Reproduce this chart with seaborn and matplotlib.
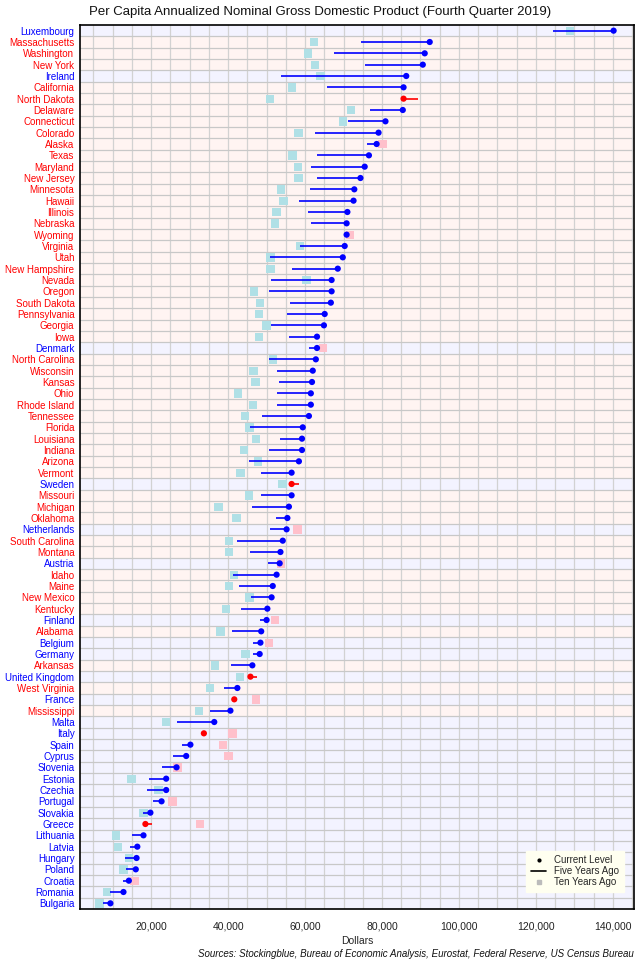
import numpy as np
import pandas as pd
import matplotlib
matplotlib.use("Agg")
import matplotlib.pyplot as plt
import seaborn as sns
from matplotlib.lines import Line2D
from matplotlib.ticker import MultipleLocator, FuncFormatter

regions = [
    "Luxembourg", "Massachusetts", "Washington", "New York", "Ireland", "California",
    "North Dakota", "Delaware", "Connecticut", "Colorado", "Alaska", "Texas", "Maryland",
    "New Jersey", "Minnesota", "Hawaii", "Illinois", "Nebraska", "Wyoming", "Virginia",
    "Utah", "New Hampshire", "Nevada", "Oregon", "South Dakota", "Pennsylvania", "Georgia",
    "Iowa", "Denmark", "North Carolina", "Wisconsin", "Kansas", "Ohio", "Rhode Island",
    "Tennessee", "Florida", "Louisiana", "Indiana", "Arizona", "Vermont", "Sweden",
    "Missouri", "Michigan", "Oklahoma", "Netherlands", "South Carolina", "Montana",
    "Austria", "Idaho", "Maine", "New Mexico", "Kentucky", "Finland", "Alabama",
    "Belgium", "Germany", "Arkansas", "United Kingdom", "West Virginia", "France",
    "Mississippi", "Malta", "Italy", "Spain", "Cyprus", "Slovenia", "Estonia", "Czechia",
    "Portugal", "Slovakia", "Greece", "Lithuania", "Latvia", "Hungary", "Poland",
    "Croatia", "Romania", "Bulgaria",
]

countries = {
    "Luxembourg", "Ireland", "Denmark", "Sweden", "Netherlands", "Austria", "Finland",
    "Belgium", "Germany", "United Kingdom", "France", "Malta", "Italy", "Spain", "Cyprus",
    "Slovenia", "Estonia", "Czechia", "Portugal", "Slovakia", "Greece", "Lithuania",
    "Latvia", "Hungary", "Poland", "Croatia", "Romania", "Bulgaria",
}

current = [
    140200, 92400, 91100, 90600, 86300, 85600, 85600, 85400, 80900, 79100, 78600,
    76600, 75500, 74400, 72800, 72600, 71000, 70800, 70800, 70300, 69800, 68500,
    66900, 66900, 66700, 65100, 64900, 63100, 63100, 62800, 62000, 61800, 61500,
    61500, 61000, 59400, 59200, 59200, 58400, 56500, 56500, 56500, 55800, 55400,
    55200, 54200, 53600, 53400, 52600, 51600, 51300, 50200, 50000, 48600, 48400,
    48200, 46300, 45800, 42400, 41600, 40600, 36400, 33700, 30200, 29100, 26600,
    23900, 23900, 22700, 19800, 18500, 18000, 16400, 16200, 16000, 14200, 12800, 9400,
]

five_years_ago = [
    124500, 74600, 67600, 75700, 53800, 65800, 89300, 77000, 71200, 62700, 76200,
    63200, 61600, 63200, 61200, 58300, 60800, 61600, 70200, 58700, 51000, 56700,
    51200, 50700, 56200, 55400, 51200, 55900, 61000, 50700, 52800, 53300, 52600,
    52800, 48900, 45800, 53500, 50700, 45300, 48600, 58400, 48600, 46300, 52400,
    51000, 42200, 45800, 50400, 41300, 42900, 45900, 43400, 48400, 41100, 46400,
    46400, 40800, 47400, 39000, 41800, 35300, 26800, 33900, 27900, 25700, 22900,
    19500, 19000, 20500, 18000, 20100, 15100, 14600, 13300, 13500, 12800, 9300, 7600,
]

ten_years_ago = [
    128900, 62300, 60800, 62500, 64000, 56600, 50900, 71900, 69800, 58300, 80100,
    56700, 58100, 58300, 53800, 54400, 52600, 52100, 71600, 58700, 51000, 51000,
    60400, 46800, 48300, 48100, 50000, 48100, 64600, 51700, 46600, 47100, 42500,
    46400, 44400, 45600, 47200, 44100, 47800, 43200, 54100, 45500, 37500, 42200,
    58000, 40300, 40300, 53700, 41600, 40300, 45600, 39500, 52100, 38000, 50700,
    44500, 36600, 43100, 35300, 47300, 32500, 23900, 41100, 38700, 40100, 26800,
    14900, 21900, 25500, 18000, 32700, 10900, 11300, 14200, 12800, 15700, 8500, 6600,
]

df = pd.DataFrame({
    "region": regions,
    "current": current,
    "five": five_years_ago,
    "ten": ten_years_ago,
})
df["pos"] = np.arange(len(df))
df["kind"] = np.where(df["region"].isin(countries), "country", "state")
df["trend"] = np.where(df["current"] >= df["five"], "up", "down")
df["ten_trend"] = np.where(df["current"] >= df["ten"], "up", "down")

sns.set_theme(style="white")
plt.rcParams["font.family"] = ["Liberation Sans", "DejaVu Sans"]

fig = plt.figure(figsize=(6.4, 9.6), dpi=100)
ax = fig.add_axes([80 / 640, 1 - 909 / 960, (634 - 80) / 640, (909 - 25) / 960])

n = len(df)
bg = {"country": "#F3F3FF", "state": "#FFF4F2"}
for i, k in enumerate(df["kind"]):
    ax.axhspan(i - 0.5, i + 0.5, color=bg[k], lw=0, zorder=0)

# grid
for xv in np.arange(5000, 146000, 5000):
    ax.axvline(xv, color="#D2D2D2", lw=0.9, zorder=1)
for i in range(n - 1):
    ax.axhline(i + 0.5, color="#C8C8C8", lw=0.9, zorder=1)

sns.scatterplot(data=df, x="ten", y="pos", hue="ten_trend",
                palette={"up": "#B0E0E6", "down": "#FFC0CB"},
                marker="s", s=36, linewidth=0, legend=False, zorder=2, ax=ax)

line_cols = df["trend"].map({"up": "#0000FF", "down": "#FF0000"})
ax.hlines(df["pos"], df["five"], df["current"], colors=line_cols, lw=1.2, zorder=3)

sns.scatterplot(data=df, x="current", y="pos", hue="trend",
                palette={"up": "#0000FF", "down": "#FF0000"},
                marker="o", s=20, linewidth=0, legend=False, zorder=4, ax=ax)

ax.set_xlim(1500, 145500)
ax.set_ylim(n - 0.5, -0.5)
ax.set_yticks(df["pos"])
ax.set_yticklabels(df["region"], fontsize=7)
for lbl, k in zip(ax.get_yticklabels(), df["kind"]):
    lbl.set_color("#0000FF" if k == "country" else "#FF0000")
ax.tick_params(axis="y", length=0, pad=4)

ax.xaxis.set_major_locator(MultipleLocator(20000))
ax.xaxis.set_minor_locator(MultipleLocator(5000))
ax.xaxis.set_major_formatter(FuncFormatter(lambda v, p: f"{int(v):,}"))
ax.tick_params(axis="x", which="both", direction="out", length=4, color="#BBBBBB",
               labelsize=7.5, pad=5, labelcolor="#222222")

ax.set_xlabel("Dollars", fontsize=7.5, labelpad=3)
ax.set_ylabel("")

for sp in ax.spines.values():
    sp.set_color("black")
    sp.set_linewidth(1.2)
    sp.set_visible(True)

fig.text(0.5, 1 - 12 / 960, "Per Capita Annualized Nominal Gross Domestic Product (Fourth Quarter 2019)",
         ha="center", va="center", fontsize=9.5, color="#111111")
fig.text(634 / 640, 1 - 954 / 960,
         "Sources: Stockingblue, Bureau of Economic Analysis, Eurostat, Federal Reserve, US Census Bureau",
         ha="right", va="center", fontsize=7, style="italic", color="#111111")

handles = [
    Line2D([], [], marker="o", color="black", linestyle="None", markersize=2),
    Line2D([], [], color="black", lw=1.2),
    Line2D([], [], marker="s", color="#BBBBBB", linestyle="None", markersize=3),
]
leg = ax.legend(handles, ["Current Level", "Five Years Ago", "Ten Years Ago"],
                loc="lower right", bbox_to_anchor=(0.982, 0.019), fontsize=7,
                frameon=True, fancybox=False, handlelength=1.6, handletextpad=0.8,
                borderpad=0.5, labelspacing=0.1, borderaxespad=0)
leg.get_frame().set_facecolor("#FFFFF0")
leg.get_frame().set_edgecolor("#FFFFF0")
leg.get_frame().set_alpha(1)
leg.set_zorder(10)

fig.savefig("out.png", dpi=100)
